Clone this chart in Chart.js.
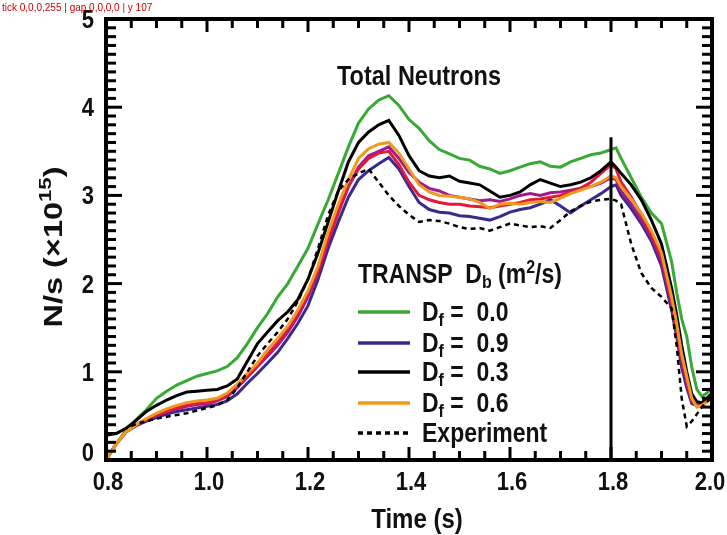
<!DOCTYPE html>
<html>
<head>
<meta charset="utf-8">
<script src="https://cdn.jsdelivr.net/npm/chart.js@4.4.1/dist/chart.umd.min.js"></script>
<style>
  html, body { margin: 0; padding: 0; background: #fff; }
  #wrap { width: 727px; height: 535px; position: relative; }
  #probe { position: absolute; left: 2px; top: 2px; font: 10px sans-serif; color: #c00; }
</style>
</head>
<body>
<div id="wrap"><canvas id="chart" width="727" height="535"></canvas><div id="probe"></div></div>
<script>
// time axis (s), shared by every series
const times = [0.80,0.82,0.84,0.86,0.88,0.90,0.92,0.94,0.96,0.98,
  1.00,1.02,1.04,1.06,1.08,1.10,1.12,1.14,1.16,1.18,
  1.20,1.22,1.24,1.26,1.28,1.30,1.32,1.34,1.36,1.38,
  1.40,1.42,1.44,1.46,1.48,1.50,1.52,1.54,1.56,1.58,
  1.60,1.62,1.64,1.66,1.68,1.70,1.72,1.74,1.76,1.78,
  1.80,1.81,1.82,1.84,1.86,1.88,1.90,1.92,1.93,1.94,
  1.95,1.96,1.97,1.98,1.99,2.00];

// neutron rate, units of 1e15 N/s
const df00 = [0.00,0.18,0.34,0.46,0.57,0.70,0.78,0.85,0.90,0.95,
  0.98,1.01,1.06,1.16,1.32,1.50,1.66,1.85,2.00,2.20,
  2.40,2.68,2.95,3.25,3.55,3.82,3.98,4.08,4.13,4.02,
  3.86,3.76,3.62,3.52,3.47,3.42,3.40,3.33,3.30,3.25,
  3.28,3.32,3.36,3.38,3.33,3.32,3.38,3.42,3.46,3.48,
  3.52,3.54,3.42,3.20,2.98,2.80,2.68,2.25,1.90,1.60,
  1.40,1.05,0.80,0.72,0.76,0.82];
const df09 = [0.00,0.18,0.32,0.39,0.44,0.48,0.52,0.55,0.57,0.59,
  0.61,0.63,0.67,0.75,0.87,0.98,1.10,1.22,1.38,1.55,
  1.75,2.05,2.40,2.70,2.98,3.18,3.28,3.36,3.43,3.30,
  3.10,2.92,2.84,2.81,2.80,2.77,2.76,2.74,2.72,2.76,
  2.81,2.84,2.86,2.90,2.95,2.88,2.80,2.88,2.95,3.02,
  3.10,3.12,3.00,2.85,2.68,2.48,2.20,1.70,1.40,1.05,
  0.82,0.64,0.62,0.64,0.68,0.72];
const df03 = [0.28,0.30,0.36,0.45,0.55,0.62,0.68,0.73,0.77,0.78,
  0.79,0.80,0.84,0.92,1.12,1.32,1.45,1.58,1.68,1.82,
  2.05,2.35,2.70,3.05,3.38,3.60,3.72,3.80,3.85,3.68,
  3.45,3.28,3.22,3.20,3.22,3.16,3.14,3.12,3.05,2.98,
  3.00,3.04,3.12,3.18,3.14,3.10,3.12,3.15,3.20,3.28,
  3.38,3.32,3.25,3.12,2.95,2.72,2.45,1.95,1.65,1.30,
  1.00,0.75,0.66,0.65,0.70,0.76];
const df06 = [0.00,0.18,0.32,0.40,0.47,0.53,0.58,0.62,0.65,0.67,
  0.68,0.70,0.76,0.86,0.98,1.10,1.25,1.38,1.52,1.70,
  1.92,2.20,2.58,2.90,3.18,3.42,3.53,3.58,3.60,3.48,
  3.30,3.12,3.04,3.00,2.99,2.98,2.96,2.92,2.85,2.90,
  2.91,2.90,2.92,2.93,2.92,2.97,3.02,3.06,3.10,3.15,
  3.22,3.20,3.10,2.96,2.80,2.60,2.35,1.85,1.55,1.20,
  0.95,0.70,0.60,0.62,0.66,0.72];
const runMagenta = [0.00,0.18,0.32,0.40,0.46,0.50,0.54,0.58,0.61,0.63,
  0.64,0.67,0.72,0.82,0.94,1.06,1.18,1.30,1.45,1.63,
  1.85,2.12,2.48,2.80,3.10,3.32,3.45,3.50,3.55,3.42,
  3.26,3.15,3.08,3.05,3.00,2.98,2.96,2.94,2.95,2.93,
  2.96,3.00,3.02,3.00,3.03,3.04,3.06,3.08,3.10,3.14,
  3.20,3.18,3.05,2.90,2.72,2.52,2.26,1.76,1.46,1.12,
  0.88,0.66,0.62,0.64,0.70,0.75];
const runRed = [0.00,0.18,0.32,0.40,0.46,0.51,0.55,0.59,0.62,0.64,
  0.65,0.68,0.73,0.83,0.95,1.07,1.20,1.33,1.48,1.66,
  1.88,2.15,2.50,2.82,3.10,3.30,3.42,3.48,3.50,3.35,
  3.15,3.00,2.95,2.92,2.90,2.90,2.88,2.87,2.86,2.88,
  2.90,2.92,2.95,2.96,2.98,3.00,3.04,3.08,3.15,3.25,
  3.35,3.30,3.15,2.98,2.78,2.56,2.30,1.80,1.50,1.15,
  0.90,0.67,0.62,0.64,0.70,0.75];
const experiment = [0.28,0.30,0.36,0.41,0.44,0.47,0.49,0.51,0.53,0.56,
  0.59,0.62,0.68,0.82,1.00,1.18,1.32,1.45,1.60,1.80,
  2.05,2.40,2.78,3.05,3.18,3.25,3.30,3.15,3.00,2.88,
  2.78,2.70,2.72,2.71,2.68,2.64,2.62,2.63,2.60,2.64,
  2.68,2.66,2.64,2.65,2.63,2.72,2.82,2.88,2.93,2.95,
  2.96,2.94,2.90,2.45,2.12,1.95,1.85,1.72,1.30,0.70,
  0.38,0.44,0.52,0.60,0.66,0.72];

// vertical marker at 1.8 s
const markerTime = 1.8;
const markerTop = 3.66;

const xTicks = [0.8, 1.0, 1.2, 1.4, 1.6, 1.8, 2.0];
const yTicks = [0, 1, 2, 3, 4, 5];
const legendValues = ['0.0', '0.9', '0.3', '0.6'];

const pts = vals => vals.map((v, i) => ({ x: times[i], y: v }));

const FONT = '"Liberation Sans", Arial, Helvetica, sans-serif';

// draw a row of text pieces [text, size, dy]; sx/sy stretch the glyphs
function drawRuns(ctx, parts, x, y, align, sx, sy) {
  ctx.save();
  let w = 0;
  parts.forEach(p => {
    ctx.font = 'bold ' + p[1] + 'px ' + FONT;
    p.w = ctx.measureText(p[0]).width * sx;
    w += p.w;
  });
  let cx = align === 'center' ? x - w / 2 : align === 'right' ? x - w : x;
  ctx.fillStyle = '#111';
  ctx.textBaseline = 'alphabetic';
  ctx.textAlign = 'left';
  parts.forEach(p => {
    ctx.save();
    ctx.translate(cx, y + (p[2] || 0));
    ctx.scale(sx, sy);
    ctx.font = 'bold ' + p[1] + 'px ' + FONT;
    ctx.fillText(p[0], 0, 0);
    ctx.restore();
    cx += p.w;
  });
  ctx.restore();
}

// inward tick marks on all four sides plus the frame
function drawFrame(chart) {
  const ctx = chart.ctx;
  const area = chart.chartArea;
  const xs = chart.scales.x, ys = chart.scales.y;
  ctx.save();
  ctx.fillStyle = '#000';
  for (let i = 0; i <= 50; i++) {
    const py = ys.getPixelForValue(i / 10);
    const len = i % 10 === 0 ? 16 : 10;
    ctx.fillRect(area.left, py - 1.5, len, 3);
    ctx.fillRect(area.right - len, py - 1.5, len, 3);
  }
  for (let i = 0; i <= 24; i++) {
    const px = xs.getPixelForValue(0.8 + i * 0.05);
    const len = i % 4 === 0 ? 13 : 9;
    ctx.fillRect(px - 1.5, area.bottom - len, 3, len);
    ctx.fillRect(px - 1.5, area.top, 3, len);
  }
  ctx.strokeStyle = '#000';
  ctx.lineWidth = 4;
  ctx.strokeRect(area.left, area.top, area.right - area.left, area.bottom - area.top);
  ctx.restore();
}

const decor = {
  id: 'decor',
  afterDraw(chart) {
    const ctx = chart.ctx;
    const xs = chart.scales.x, ys = chart.scales.y;

    yTicks.forEach(v => {
      const py = ys.getPixelForValue(v) + (v === 0 ? 1 : 9);
      drawRuns(ctx, [[String(v), 22]], 94, py, 'right', 1, 1.18);
    });
    xTicks.forEach(v => {
      const shift = v === 2.0 ? -2 : 2;
      drawRuns(ctx, [[v.toFixed(1), 22]], xs.getPixelForValue(v) + shift, 490, 'center', 1, 1.18);
    });

    drawRuns(ctx, [['Time (s)', 24]], 417, 528, 'center', 1, 1.18);
    ctx.save();
    ctx.translate(62, 247);
    ctx.rotate(-Math.PI / 2);
    drawRuns(ctx, [['N/s (\u00d710', 25], ['15', 17, -11], [')', 25]], 0, 0, 'center', 1.3, 1);
    ctx.restore();

    drawRuns(ctx, [['Total Neutrons', 23.5]], 419, 85, 'center', 1, 1.18);

    // legend
    drawRuns(ctx, [['TRANSP  D', 23], ['b', 16, 5], [' (m', 23], ['2', 16, -10], ['/s)', 23]], 358, 283, 'left', 1, 1.18);
    const rowY = [312, 343, 372, 403, 433];
    [0, 1, 2, 3, 4].forEach((di, r) => {
      const ds = chart.data.datasets[di];
      ctx.save();
      ctx.strokeStyle = ds.borderColor;
      ctx.lineWidth = 3.5;
      ctx.setLineDash(ds.borderDash || []);
      ctx.beginPath();
      ctx.moveTo(358, rowY[r]);
      ctx.lineTo(410, rowY[r]);
      ctx.stroke();
      ctx.restore();
      const parts = r < 4
        ? [['D', 23], ['f', 16, 5], [' =  ' + legendValues[r], 23]]
        : [['Experiment', 23]];
      drawRuns(ctx, parts, 422, rowY[r] + 9, 'left', 1, 1.18);
    });

    drawFrame(chart);
  }
};

const chart = new Chart(document.getElementById('chart'), {
  type: 'line',
  data: {
    datasets: [
      { label: 'Df = 0.0', data: pts(df00), borderColor: '#38a935', order: 3 },
      { label: 'Df = 0.9', data: pts(df09), borderColor: '#3b2a8c', order: 6 },
      { label: 'Df = 0.3', data: pts(df03), borderColor: '#000000', order: 2 },
      { label: 'Df = 0.6', data: pts(df06), borderColor: '#ee9a1e', order: 1 },
      { label: 'Experiment', data: pts(experiment), borderColor: '#000000', borderDash: [5, 4], borderWidth: 2.5, order: 0 },
      { label: 'run m', data: pts(runMagenta), borderColor: '#a01a8c', order: 5 },
      { label: 'run r', data: pts(runRed), borderColor: '#e2183c', order: 4 },
      { label: 'marker', data: [{ x: markerTime, y: 0 }, { x: markerTime, y: markerTop }], borderColor: '#000000', order: 0 }
    ]
  },
  options: {
    responsive: false,
    animation: false,
    layout: { padding: { left: 106, right: 15, top: 19, bottom: 75 } },
    elements: {
      line: { borderWidth: 3, tension: 0, fill: false },
      point: { radius: 0 }
    },
    plugins: { legend: { display: false }, tooltip: { enabled: false } },
    scales: {
      x: { type: 'linear', min: 0.8, max: 2.0, display: false },
      y: { type: 'linear', min: 0, max: 5, display: false }
    }
  },
  plugins: [decor]
});

// pixel check at the left major tick for 4 and just beside it
const c2 = chart.ctx;
const py4 = Math.round(chart.scales.y.getPixelForValue(4));
const a = c2.getImageData(114, py4, 1, 1).data;
const b = c2.getImageData(114, py4 + 4, 1, 1).data;
document.getElementById('probe').textContent = 'tick ' + Array.from(a).join(',') + ' | gap ' + Array.from(b).join(',') + ' | y ' + py4;
</script>
</body>
</html>
